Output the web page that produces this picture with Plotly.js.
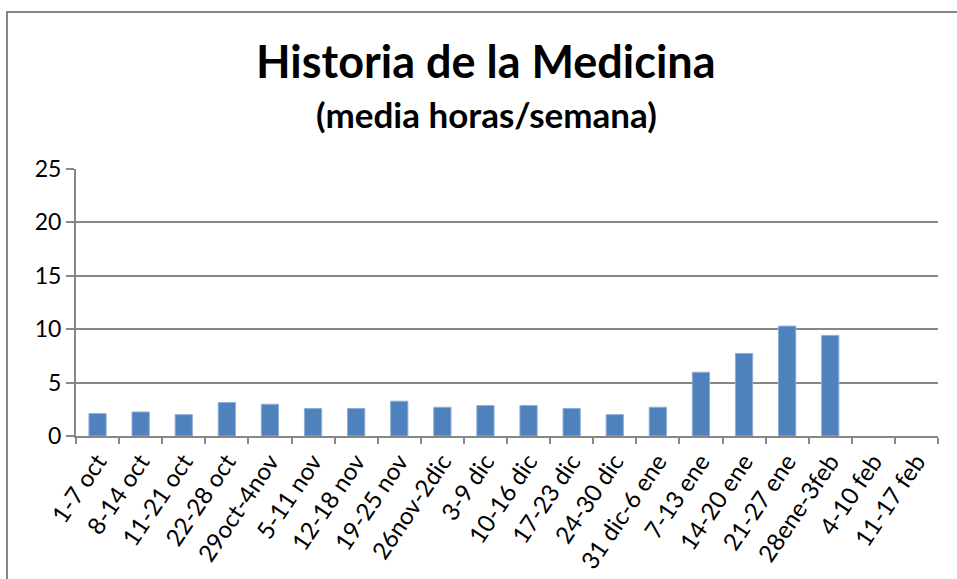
<!DOCTYPE html>
<html>
<head>
<meta charset="utf-8">
<script src="https://cdn.plot.ly/plotly-3.0.1.min.js"></script>
<style>
html,body{margin:0;padding:0;background:#fff;}
#wrap{position:relative;width:957px;height:579px;overflow:hidden;}
#chart{position:absolute;left:0;top:0;width:957px;height:579px;}
#frame{position:absolute;left:6px;top:11px;width:960px;height:580px;border-left:2px solid #878787;border-top:2px solid #878787;pointer-events:none;}
</style>
</head>
<body>
<div id="wrap"><div id="chart"></div><div id="frame"></div></div>
<script>
const categories = ["1-7 oct","8-14 oct","11-21 oct","22-28 oct","29oct-4nov","5-11 nov","12-18 nov","19-25 nov","26nov-2dic","3-9 dic","10-16 dic","17-23 dic","24-30 dic","31 dic-6 ene","7-13 ene","14-20 ene","21-27 ene","28ene-3feb","4-10 feb","11-17 feb"];
const hours = [2.1, 2.25, 2.0, 3.13, 2.97, 2.57, 2.57, 3.26, 2.69, 2.85, 2.85, 2.57, 2.0, 2.69, 5.97, 7.73, 10.29, 9.42, null, null];
const yTicks = [0, 5, 10, 15, 20, 25];
const titleMain = "Historia de la Medicina";
const titleSub = "(media horas/semana)";

const FONT = "Lato, Carlito, Calibri, sans-serif";
const GRID = "#878787";

const trace = {
  type: "bar",
  x: categories,
  y: hours,
  marker: {color: "#4F81BD", line: {color: "#8EAEDA", width: 1}},
  hoverinfo: "x+y"
};

const layout = {
  width: 957, height: 579,
  margin: {l: 76, r: 19, t: 169, b: 143},
  paper_bgcolor: "#ffffff",
  plot_bgcolor: "#ffffff",
  showlegend: false,
  bargap: 0.6,
  font: {family: FONT, color: "#000000"},
  xaxis: {
    type: "category",
    tickson: "boundaries",
    ticks: "outside", ticklen: 6, tickwidth: 2, tickcolor: GRID,
    showline: true, linecolor: GRID, linewidth: 2,
    showgrid: false,
    tickangle: -56,
    tickfont: {family: FONT, size: 24, color: "#000"}
  },
  yaxis: {
    range: [0, 25],
    tickvals: yTicks,
    ticks: "outside", ticklen: 8, tickwidth: 2, tickcolor: GRID,
    showline: true, linecolor: GRID, linewidth: 2,
    showgrid: true, gridcolor: GRID, gridwidth: 2,
    zeroline: false,
    tickfont: {family: FONT, size: 23, color: "#000"}
  },
  annotations: [
    {text: "<b>" + titleMain + "</b>", xref: "paper", yref: "paper", x: 0.476, y: 1.403,
     xanchor: "center", yanchor: "middle", showarrow: false, font: {family: FONT, size: 45, color: "#000"}},
    {text: "<b>" + titleSub + "</b>", xref: "paper", yref: "paper", x: 0.476, y: 1.205,
     xanchor: "center", yanchor: "middle", showarrow: false, font: {family: FONT, size: 35, color: "#000"}}
  ]
};

Plotly.newPlot("chart", [trace], layout, {displayModeBar: false, staticPlot: true});
</script>
</body>
</html>
